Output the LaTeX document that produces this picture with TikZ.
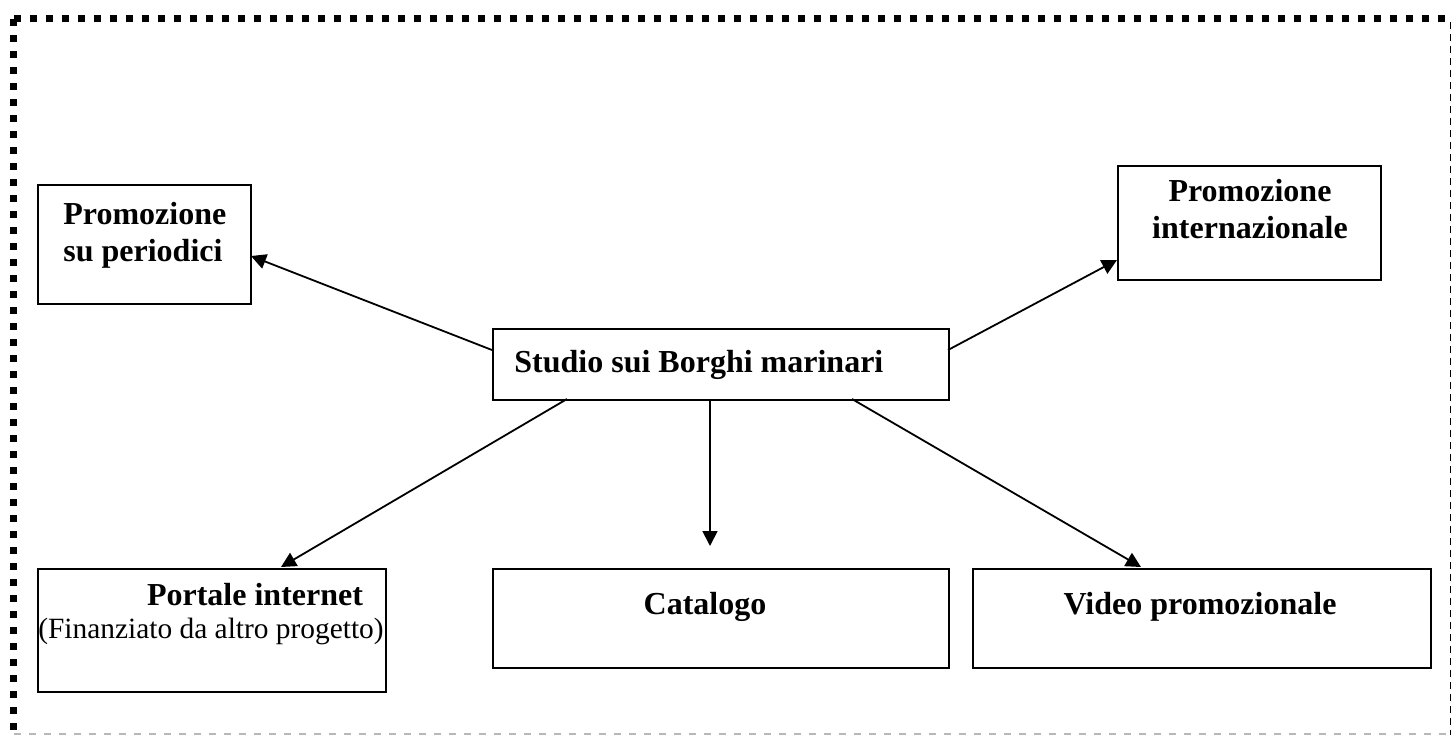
\documentclass[tikz,border=0pt]{standalone}
\usepackage{fontspec}
\setmainfont{Liberation Serif}
\usetikzlibrary{arrows.meta}
\tikzset{
  box/.style={draw=black, line width=1pt, rectangle, inner sep=0pt, anchor=north west},
  lbl/.style={inner sep=0pt, font=\fontsize{16}{18.5}\selectfont},
  conn/.style={draw=black, line width=0.9pt, -{Triangle[length=7.5pt,width=7.5pt]}},
}
\begin{document}
\begin{tikzpicture}[x=0.5pt, y=-0.5pt]
\useasboundingbox (0,0) rectangle (1452,735);
% border
\coordinate (tl) at (13.5,18.5);
\coordinate (tr) at (1452,18.5);
\coordinate (bl) at (13.5,731);
\coordinate (rt) at (1450.5,22);
\coordinate (rb) at (1450.5,735);
\coordinate (bb1) at (14,734);
\coordinate (bb2) at (1448,734);
\draw[line width=3.5pt, dash pattern=on 3.5pt off 4.5pt] (tl) -- (tr);
\draw[line width=3.5pt, dash pattern=on 3.5pt off 4.5pt] (tl) -- (bl);
\draw[line width=0.8pt, dash pattern=on 3.5pt off 2.5pt] (rt) -- (rb);
\draw[line width=0.8pt, draw=black!28, dash pattern=on 3.5pt off 4pt] (bb1) -- (bb2);

% boxes
\node[box, minimum width=213pt*0.5, minimum height=119pt*0.5] (per) at (37,184) {};
\node[box, minimum width=263pt*0.5, minimum height=114pt*0.5] (int) at (1117,165) {};
\node[box, minimum width=456pt*0.5, minimum height=71pt*0.5] (cen) at (492,328) {};
\node[box, minimum width=348pt*0.5, minimum height=123pt*0.5] (por) at (37,568) {};
\node[box, minimum width=456pt*0.5, minimum height=99pt*0.5] (cat) at (492,568) {};
\node[box, minimum width=458pt*0.5, minimum height=99pt*0.5] (vid) at (972,568) {};

% texts
\node[lbl, anchor=base west, align=left] (tper) at (63,261) {\textbf{Promozione}\\\textbf{su periodici}};
\node[lbl, anchor=base, align=center] (tint) at (1250,238) {\textbf{Promozione}\\\textbf{internazionale}};
\node[lbl, anchor=base west] (tcen) at (514,372) {\textbf{Studio sui Borghi marinari}};
\node[lbl, anchor=base] (tpor1) at (255,605) {\textbf{Portale internet}};
\node[lbl, anchor=base, font=\fontsize{14.7}{17}\selectfont] (tpor2) at (211,638) {(Finanziato da altro progetto)};
\node[lbl, anchor=base] (tcat) at (705,614) {\textbf{Catalogo}};
\node[lbl, anchor=base] (tvid) at (1200,614) {\textbf{Video promozionale}};

% connectors
\coordinate (a1) at (492,350);
\coordinate (e1) at (251,256);
\coordinate (a2) at (948,350);
\coordinate (e2) at (1117,260);
\coordinate (a3) at (567,399);
\coordinate (e3) at (281,567);
\coordinate (a4) at (710,399);
\coordinate (e4) at (710,546);
\coordinate (a5) at (852,399);
\coordinate (e5) at (1141,567);
\draw[conn] (a1) -- (e1);
\draw[conn] (a2) -- (e2);
\draw[conn] (a3) -- (e3);
\draw[conn] (a4) -- (e4);
\draw[conn] (a5) -- (e5);
\end{tikzpicture}
\end{document}
